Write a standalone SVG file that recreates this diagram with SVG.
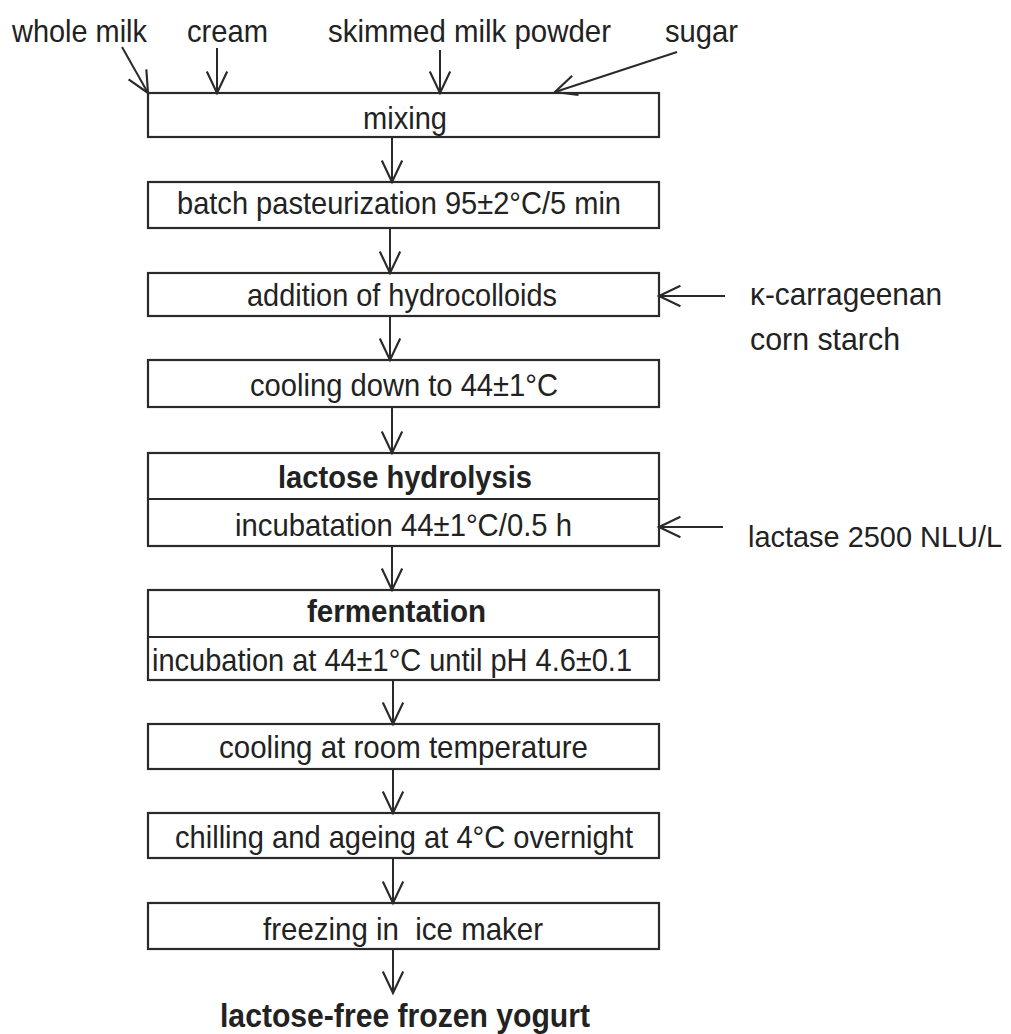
<svg xmlns="http://www.w3.org/2000/svg" width="1011" height="1034" viewBox="0 0 1011 1034">
<style>
.t{font-family:"Liberation Sans",Arial,sans-serif;font-size:32px;fill:#222;white-space:pre}
.b{font-weight:bold}
.box{fill:none;stroke:#2a2a2a;stroke-width:2.2}
.c line{stroke:#2a2a2a;stroke-width:2;marker-end:url(#ah)}
</style>
<defs>
<marker id="ah" markerUnits="userSpaceOnUse" markerWidth="30" markerHeight="30" viewBox="-24 -12 28 24" refX="0" refY="0" orient="auto">
<path d="M-20,-9.5 L0,0 L-20,9.5" fill="none" stroke="#2a2a2a" stroke-width="2"/>
</marker>
</defs>
<rect width="1011" height="1034" fill="#fff"/>
<g id="inputs">
<text class="t" x="12" y="42" textLength="135" lengthAdjust="spacingAndGlyphs">whole milk</text>
<text class="t" x="187" y="42" textLength="81" lengthAdjust="spacingAndGlyphs">cream</text>
<text class="t" x="328" y="42" textLength="283" lengthAdjust="spacingAndGlyphs">skimmed milk powder</text>
<text class="t" x="665" y="42" textLength="73" lengthAdjust="spacingAndGlyphs">sugar</text>
</g>
<g id="mixing"><rect class="box" x="148" y="93" width="511" height="44"/>
<text class="t" x="363" y="129" textLength="84" lengthAdjust="spacingAndGlyphs">mixing</text></g>
<g id="pasteurization"><rect class="box" x="148" y="182" width="511" height="46"/>
<text class="t" x="177" y="214" textLength="444" lengthAdjust="spacingAndGlyphs">batch pasteurization 95±2°C/5 min</text></g>
<g id="hydrocolloids"><rect class="box" x="148" y="273" width="511" height="43"/>
<text class="t" x="247" y="306" textLength="310" lengthAdjust="spacingAndGlyphs">addition of hydrocolloids</text></g>
<g id="cooling"><rect class="box" x="148" y="360" width="511" height="47"/>
<text class="t" x="250" y="396" textLength="308" lengthAdjust="spacingAndGlyphs">cooling down to 44±1°C</text></g>
<g id="hydrolysis"><rect class="box" x="148" y="453" width="511" height="93"/>
<line x1="148" y1="499" x2="659" y2="499" stroke="#2a2a2a" stroke-width="2.2"/>
<text class="t b" x="278" y="488" textLength="254" lengthAdjust="spacingAndGlyphs">lactose hydrolysis</text>
<text class="t" x="235" y="536" textLength="337" lengthAdjust="spacingAndGlyphs">incubatation 44±1°C/0.5 h</text></g>
<g id="fermentation"><rect class="box" x="148" y="590" width="511" height="90"/>
<line x1="148" y1="637" x2="659" y2="637" stroke="#2a2a2a" stroke-width="2.2"/>
<text class="t b" x="307" y="622" textLength="179" lengthAdjust="spacingAndGlyphs">fermentation</text>
<text class="t" x="152" y="671" textLength="480" lengthAdjust="spacingAndGlyphs">incubation at 44±1°C until pH 4.6±0.1</text></g>
<g id="roomcooling"><rect class="box" x="148" y="724" width="511" height="45"/>
<text class="t" x="219" y="758" textLength="369" lengthAdjust="spacingAndGlyphs">cooling at room temperature</text></g>
<g id="chilling"><rect class="box" x="148" y="813" width="511" height="45"/>
<text class="t" x="175" y="848" textLength="458" lengthAdjust="spacingAndGlyphs">chilling and ageing at 4°C overnight</text></g>
<g id="freezing"><rect class="box" x="148" y="903" width="511" height="46"/>
<text class="t" x="263" y="940" textLength="280" lengthAdjust="spacingAndGlyphs">freezing in  ice maker</text></g>
<g id="product"><text class="t b" x="220" y="1027" style="font-size:33px" textLength="370" lengthAdjust="spacingAndGlyphs">lactose-free frozen yogurt</text></g>
<g id="hydrocolloid-inputs">
<text class="t" x="750" y="305" textLength="192" lengthAdjust="spacingAndGlyphs">κ-carrageenan</text>
<text class="t" x="750" y="350" textLength="150" lengthAdjust="spacingAndGlyphs">corn starch</text>
</g>
<g id="lactase"><text class="t" x="748" y="547" style="font-size:29px" textLength="254" lengthAdjust="spacingAndGlyphs">lactase 2500 NLU/L</text></g>
<g id="connectors" class="c">
<line x1="122" y1="47" x2="148" y2="93"/>
<line x1="217" y1="48" x2="217" y2="93"/>
<line x1="440" y1="50" x2="440" y2="93"/>
<line x1="677" y1="52" x2="555" y2="92"/>
<line x1="392" y1="137" x2="392" y2="182"/>
<line x1="390" y1="228" x2="390" y2="273"/>
<line x1="390" y1="316" x2="390" y2="360"/>
<line x1="392" y1="407" x2="392" y2="453"/>
<line x1="392" y1="546" x2="392" y2="590"/>
<line x1="393" y1="680" x2="393" y2="724"/>
<line x1="393" y1="769" x2="393" y2="813"/>
<line x1="393" y1="858" x2="393" y2="903"/>
<line x1="393" y1="949" x2="393" y2="993"/>
<line x1="725" y1="296" x2="659" y2="296"/>
<line x1="723" y1="527" x2="659" y2="527"/>
</g>
</svg>
